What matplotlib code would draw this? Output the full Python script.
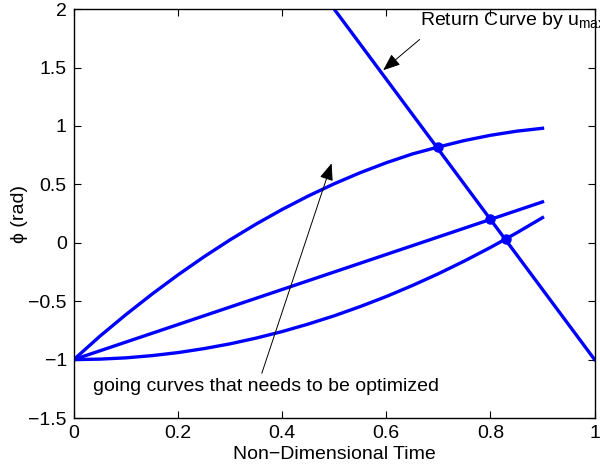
import numpy as np
import matplotlib
matplotlib.use('Agg')
import matplotlib.pyplot as plt

plt.rcParams['font.family'] = ['Liberation Sans', 'DejaVu Sans']
plt.rcParams['mathtext.fontset'] = 'custom'
plt.rcParams['mathtext.rm'] = 'Liberation Sans'

# going curves, sampled every 0.05 in non-dimensional time
t = [0.0, 0.05, 0.1, 0.15, 0.2, 0.25, 0.3, 0.35, 0.4, 0.45,
     0.5, 0.55, 0.6, 0.65, 0.7, 0.75, 0.8, 0.85, 0.9]
phi_upper = [-1.0, -0.80, -0.615, -0.44, -0.275, -0.12, 0.025, 0.16, 0.285, 0.40,
             0.505, 0.60, 0.685, 0.76, 0.82, 0.875, 0.92, 0.955, 0.98]
phi_lower = [-1.0, -0.996, -0.985, -0.966, -0.94, -0.906, -0.865, -0.816, -0.76, -0.696,
             -0.625, -0.546, -0.46, -0.366, -0.265, -0.156, -0.04, 0.084, 0.215]
t_mid = [0.0, 0.9]
phi_mid = [-1.0, 0.35]

# return curve by u_max
t_ret = [0.5, 1.0]
phi_ret = [2.0, -1.0]

# where the going curves meet the return curve
t_hit = [0.7, 0.8, 0.83]
phi_hit = [0.82, 0.2, 0.03]

blue = (0, 0, 1)
fs = 14

fig = plt.figure(figsize=(6, 4.7), dpi=100)
ax = fig.add_axes([0.123, 0.1106, 0.868, 0.870])

ax.plot(t, phi_upper, color=blue, lw=2.4)
ax.plot(t_mid, phi_mid, color=blue, lw=2.4)
ax.plot(t, phi_lower, color=blue, lw=2.4)
ax.plot(t_ret, phi_ret, color=blue, lw=2.4)
ax.plot(t_hit, phi_hit, 'o', color=blue, ms=6.5)

ax.set_xlim(0, 1)
ax.set_ylim(-1.5, 2)
ax.set_xticks([0, 0.2, 0.4, 0.6, 0.8, 1])
ax.set_xticklabels(['0', '0.2', '0.4', '0.6', '0.8', '1'])
ax.set_yticks([-1.5, -1, -0.5, 0, 0.5, 1, 1.5, 2])
ax.set_yticklabels(['\u22121.5', '\u22121', '\u22120.5', '0', '0.5', '1', '1.5', '2'])
ax.tick_params(direction='in', length=5, width=0.8, top=True, right=True,
               labelsize=fs, pad=5)
for s in ax.spines.values():
    s.set_linewidth(1.0)

ax.set_xlabel('Non\u2212Dimensional Time', fontsize=fs, labelpad=3)
ax.set_ylabel('\u03d5 (rad)', fontsize=fs, labelpad=0)

arrow = dict(arrowstyle='-|>,head_length=0.75,head_width=0.3', color='k', lw=0.7,
             shrinkA=0, shrinkB=0)
ax.annotate('', xy=(0.594, 1.477), xytext=(0.664, 1.74),
            fontsize=fs, arrowprops=arrow)
ax.text(0.664, 1.90, r'Return Curve by u$_{\mathrm{max}}$', fontsize=fs, va='center',
        ha='left', clip_on=False)
ax.annotate('', xy=(0.495, 0.68), xytext=(0.361, -1.117),
            fontsize=fs, arrowprops=arrow)
ax.text(0.037, -1.23, 'going curves that needs to be optimized', fontsize=fs, va='center')

fig.savefig('out.png', dpi=100)
